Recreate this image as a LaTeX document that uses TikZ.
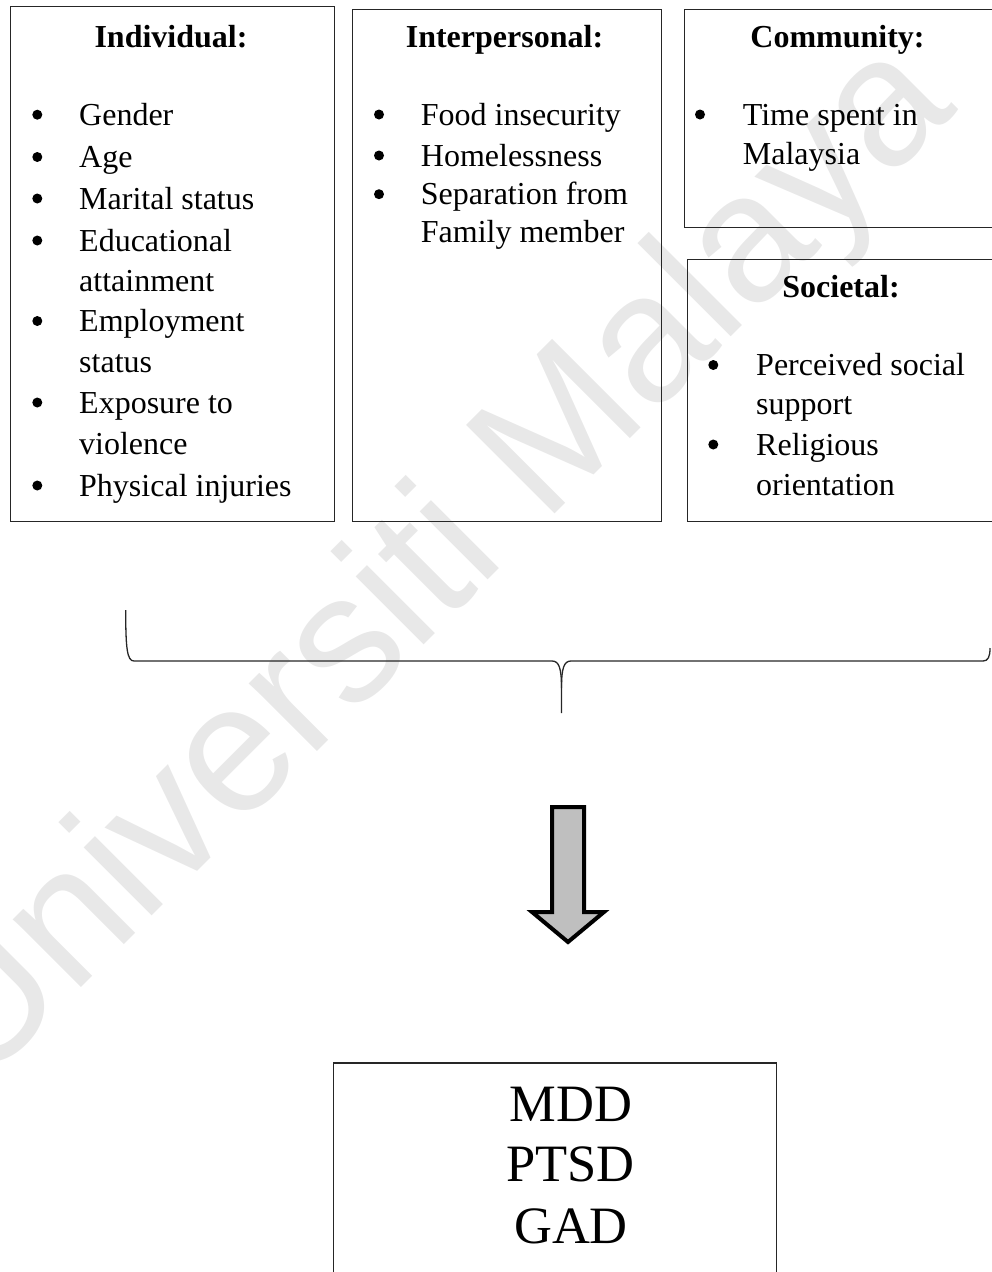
\documentclass[tikz,border=0pt]{standalone}
\usepackage{fontspec}
\setmainfont{Liberation Serif}
\newfontfamily\wmfont{Liberation Sans}
\begin{document}
\begin{tikzpicture}[x=1pt,y=-1pt,
  frame/.style={draw=black!85, line width=1.4pt, inner sep=0pt, anchor=north west},
  item/.style={font=\fontsize{32}{41}\selectfont, anchor=base west, inner sep=0pt},
  ttl/.style={font=\fontsize{32}{41}\selectfont\bfseries, anchor=base, inner sep=0pt},
  bul/.style={circle, fill=black, inner sep=0pt, minimum size=10pt},
  big/.style={font=\fontsize{52.5}{60}\selectfont, anchor=base, inner sep=0pt},
  wm/.style={rotate=45, text=black!9, inner sep=0pt, font=\fontsize{182}{182}\selectfont\wmfont},
  bracestyle/.style={draw=black!85, line width=1.3pt},
  arrowstyle/.style={draw=black, fill=black!25, line width=4pt, miter limit=10}]
\useasboundingbox (0,0) rectangle (992,1272);
\clip (0,0) rectangle (992,1272);
% watermark
\node[wm] (wm) at (436,566) {Universiti Malaya};
% boxes
\node[frame, minimum width=324pt, minimum height=515pt] (indbox) at (10,6) {};
\node[frame, minimum width=309pt, minimum height=512.5pt] (intbox) at (352,8.5) {};
\node[frame, minimum width=330pt, minimum height=217.5pt] (combox) at (684,9) {};
\node[frame, minimum width=330pt, minimum height=262pt] (socbox) at (687,259) {};
\node[frame, minimum width=443pt, minimum height=260pt] (resbox) at (333,1062.3) {};
% titles
\node[ttl] (indt) at (171,47.4) {Individual:};
\node[ttl] (intt) at (504.5,47.4) {Interpersonal:};
\node[ttl] (comt) at (837.5,47.4) {Community:};
\node[ttl] (soct) at (841,297.7) {Societal:};
% individual items
\foreach \yy/\tt/\bb [count=\i] in {125.2/Gender/1, 167.5/Age/1, 209/Marital status/1,
   251/Educational/1, 291/attainment/0, 331.5/Employment/1, 372/status/0,
   413/Exposure to/1, 454/violence/0, 496/Physical injuries/1}{
  \node[item] (ind-\i) at (79,\yy) {\tt};
  \ifnum\bb=1 \node[bul] (indb-\i) at (37.3,\yy-10.5) {};\fi
}
% interpersonal items
\foreach \yy/\tt/\bb [count=\i] in {125/Food insecurity/1, 166/Homelessness/1,
   204.7/Separation from/1, 242/Family member/0}{
  \node[item] (int-\i) at (420.7,\yy) {\tt};
  \ifnum\bb=1 \node[bul] (intb-\i) at (379,\yy-10.5) {};\fi
}
% community items
\foreach \yy/\tt/\bb [count=\i] in {125/Time spent in/1, 164/Malaysia/0}{
  \node[item] (com-\i) at (742.7,\yy) {\tt};
  \ifnum\bb=1 \node[bul] (comb-\i) at (700,\yy-10.5) {};\fi
}
% societal items
\foreach \yy/\tt/\bb [count=\i] in {375.5/Perceived social/1, 414.4/support/0,
   455/Religious/1, 495.6/orientation/0}{
  \node[item] (soc-\i) at (756,\yy) {\tt};
  \ifnum\bb=1 \node[bul] (socb-\i) at (713.3,\yy-10.5) {};\fi
}
% brace
\coordinate (braceL) at (125.7,610);
\coordinate (braceTip) at (561.5,713);
\coordinate (braceR) at (990,648);
\draw[bracestyle] (braceL) .. controls (125.7,648) and (127,661) .. (134,661)
  -- (552,661) .. controls (559,661) and (561.5,668) .. (561.5,688) -- (braceTip);
\draw[bracestyle] (561.5,688) .. controls (561.5,668) and (564,661) .. (571,661)
  -- (983,661) .. controls (988,661) and (990,657) .. (braceR);
% block arrow
\draw[arrowstyle] (552,807) -- (584,807) -- (584,912) -- (604,912) -- (568,942)
  -- (532,912) -- (552,912) -- cycle;
% result
\node[big] (mdd) at (571,1121.7) {MDD};
\node[big] (ptsd) at (570.5,1181.7) {PTSD};
\node[big] (gad) at (571,1243) {GAD};
\end{tikzpicture}
\end{document}
